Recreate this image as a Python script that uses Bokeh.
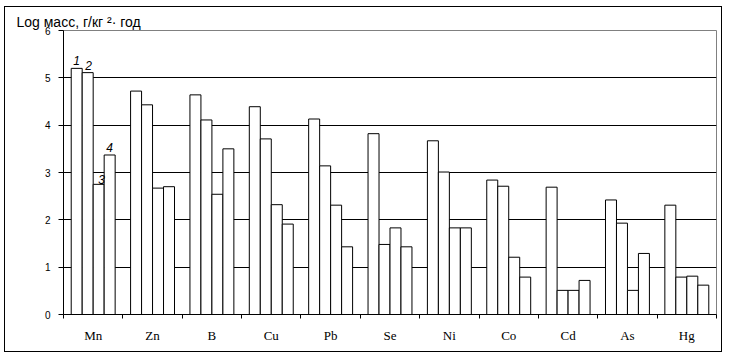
import numpy as np
from bokeh.plotting import figure
from bokeh.models import Range1d, FixedTicker, ColumnDataSource
from bokeh.transform import dodge
from bokeh.core.properties import value
from bokeh.embed import file_html
from bokeh.resources import INLINE

# ---- data ----
elements = ["Mn", "Zn", "B", "Cu", "Pb", "Se", "Ni", "Co", "Cd", "As", "Hg"]
series_1 = [5.20, 4.72, 4.64, 4.39, 4.13, 3.82, 3.67, 2.84, 2.69, 2.42, 2.31]
series_2 = [5.11, 4.43, 4.11, 3.71, 3.14, 1.48, 3.01, 2.71, 0.51, 1.93, 0.79]
series_3 = [2.75, 2.67, 2.54, 2.32, 2.31, 1.83, 1.83, 1.21, 0.51, 0.51, 0.81]
series_4 = [3.37, 2.70, 3.50, 1.91, 1.43, 1.43, 1.83, 0.79, 0.72, 1.29, 0.62]
series_names = ["1", "2", "3", "4"]
y_ticks = [0, 1, 2, 3, 4, 5, 6]
y_title = "Log масс, г/кг ²· год"

all_series = [series_1, series_2, series_3, series_4]
n = len(elements)
bw = 0.185  # bar width in category units

centers = [i + 0.5 for i in range(n)]
src = ColumnDataSource(dict(x=centers, s1=series_1, s2=series_2, s3=series_3, s4=series_4))

W, H = 718, 346
p = figure(width=W, height=H, x_range=Range1d(0, n), y_range=Range1d(0, 6),
           output_backend="svg", toolbar_location=None,
           min_border_left=58, min_border_right=7, min_border_top=23, min_border_bottom=39)
p.background_fill_color = "white"
p.border_fill_color = "white"
p.outline_line_color = "#808080"
p.outline_line_width = 1
p.styles = {"border": "1px solid black", "margin-left": "4px", "margin-top": "6px"}

# title
p.title.text = y_title
p.title.align = "left"
p.title.offset = -47
p.title.standoff = 2
p.title.text_font = "Liberation Sans"
p.title.text_font_size = "14px"
p.title.text_font_style = "normal"
p.title.text_color = "black"

# grid
p.xgrid.visible = False
p.ygrid.ticker = FixedTicker(ticks=y_ticks[1:-1])
p.ygrid.grid_line_color = "black"
p.ygrid.grid_line_width = 1

# y axis
p.yaxis.ticker = FixedTicker(ticks=y_ticks)
p.yaxis.major_tick_out = 5
p.yaxis.major_tick_in = 0
p.yaxis.minor_tick_line_color = None
p.yaxis.axis_line_color = "black"
p.yaxis.major_tick_line_color = "black"
p.yaxis.major_label_text_font = "Liberation Sans"
p.yaxis.major_label_text_font_size = "10px"
p.yaxis.major_label_text_color = "black"
p.yaxis.major_label_standoff = 8

# x axis: labels at category centres, ticks at boundaries
p.xaxis.ticker = FixedTicker(ticks=centers, minor_ticks=list(range(n + 1)))
p.xaxis.major_label_overrides = {c: e for c, e in zip(centers, elements)}
p.xaxis.major_tick_line_color = None
p.xaxis.major_tick_out = 0
p.xaxis.major_tick_in = 0
p.xaxis.minor_tick_line_color = "black"
p.xaxis.minor_tick_out = 4
p.xaxis.minor_tick_in = 0
p.xaxis.axis_line_color = "black"
p.xaxis.major_label_text_font = "Liberation Serif"
p.xaxis.major_label_text_font_size = "13px"
p.xaxis.major_label_text_color = "black"
p.xaxis.major_label_standoff = 9

# bars
for j, key in enumerate(["s1", "s2", "s3", "s4"]):
    off = (j - 1.5) * bw
    p.vbar(x=dodge("x", off, range=p.x_range), top=key, width=bw, bottom=0, source=src,
           fill_color="white", line_color="black", line_width=1)

# series number labels above the first group
lab_x = [centers[0] + (j - 1.5) * bw for j in range(4)]
lab_y = [s[0] for s in all_series]
lab_xoff = [0, 1, 3, 0]
lab_yoff = [-3, -3, 0, -3]
lsrc = ColumnDataSource(dict(x=lab_x, y=lab_y, t=series_names, xo=lab_xoff, yo=lab_yoff))
p.text(x="x", y="y", text="t", x_offset="xo", y_offset="yo", source=lsrc,
       text_font=value("Liberation Sans"), text_font_size="12px", text_font_style="italic",
       text_align="center", text_baseline="bottom", text_color="black")

open("out.html", "w").write(file_html(p, INLINE))
